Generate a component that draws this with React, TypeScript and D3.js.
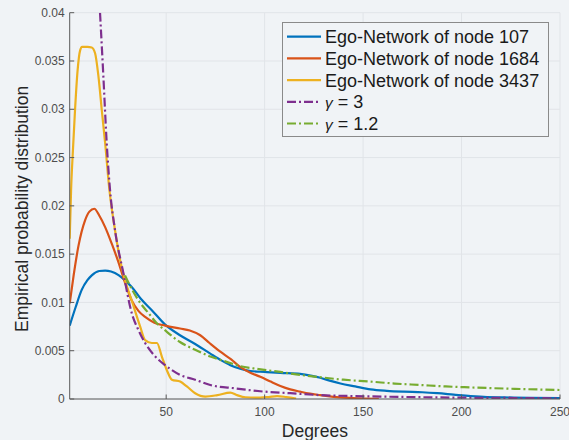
import * as React from "react";
import * as d3 from "d3";

// values: [degree, probability]
const node107: [number, number][] = [
  [1, 0.0076], [4, 0.0095], [7.1, 0.0113], [10, 0.0123], [12.2, 0.0128], [16, 0.01325],
  [19, 0.0133], [22, 0.0132], [26, 0.0128], [30, 0.0121], [32.5, 0.0116], [37, 0.0104],
  [42.7, 0.0092], [49.5, 0.0077], [57, 0.0066], [64.7, 0.0057], [72.4, 0.0047], [78, 0.0040],
  [82.6, 0.0035], [88, 0.0031], [92.8, 0.0029], [100, 0.0028], [108, 0.0027], [118, 0.0026],
  [124, 0.0024], [128.3, 0.0022], [133, 0.0019], [138.5, 0.0016], [146, 0.0013], [153.8, 0.0010],
  [162, 0.00085], [170.7, 0.00076], [180, 0.0007], [187.7, 0.0006], [196, 0.00045], [204.6, 0.0003],
  [213, 0.0002], [221.5, 0.00017], [235, 0.00012], [250, 0.0001],
];

const node1684: [number, number][] = [
  [1, 0.0099], [3, 0.0128], [5.4, 0.0158], [8.8, 0.0185], [11, 0.0194], [13.5, 0.0197],
  [16, 0.019], [19, 0.0178], [22.5, 0.016], [25.7, 0.0142], [29, 0.0121], [32.5, 0.0102],
  [36, 0.0091], [39.3, 0.0085], [44, 0.0079], [49.5, 0.0076], [57, 0.0073], [62, 0.0071],
  [67.3, 0.0066], [72, 0.0058], [77.5, 0.0049], [83, 0.0041], [87.7, 0.0033], [93, 0.0027],
  [97.8, 0.0023], [103, 0.0018], [108, 0.00135], [113, 0.001], [118, 0.00076], [123, 0.00055],
  [128.3, 0.0004], [135, 0.00022], [145, 0.0001], [158, 0.00002],
];

const node3437: [number, number][] = [
  [1, 0.0166], [1.7, 0.0216], [2.7, 0.026], [3.7, 0.0299], [5, 0.034], [6.3, 0.0361],
  [7.3, 0.03646], [10, 0.03646], [12.2, 0.0364], [13.9, 0.0358], [15.6, 0.0334], [17.3, 0.0299],
  [19, 0.0265], [21.2, 0.0216], [24, 0.0175], [26.6, 0.0144], [29.1, 0.0123], [32.5, 0.0102],
  [36.8, 0.0075], [39.3, 0.0061], [42.7, 0.0058], [45.3, 0.0058], [47.8, 0.0044], [50.3, 0.003],
  [52.9, 0.002], [57.1, 0.0018], [60.5, 0.0013], [64.7, 0.0006], [69.9, 0.00025], [76, 0.0004],
  [82.6, 0.00066], [86, 0.0004], [90.2, 0.00018], [97.8, 0.00014], [102, 0.0002], [106.3, 0.0003],
  [111, 0.0002], [116, 0.00005],
];

const gamma3: [number, number][] = [
  [16.4, 0.04], [18.1, 0.0334], [19.8, 0.0265], [21.5, 0.0216], [24, 0.0175], [28.3, 0.013],
  [32.5, 0.0089], [36, 0.0071], [39.3, 0.0058], [44, 0.0045], [49.5, 0.0035], [57, 0.0025],
  [64.7, 0.002], [72.4, 0.00145], [85, 0.0011], [97.8, 0.0008], [113, 0.0006], [128.3, 0.0004],
  [145, 0.0003], [162, 0.00024], [185, 0.00017], [210, 0.00012], [230, 0.0001], [250, 0.00007],
];

const gamma12: [number, number][] = [
  [29.1, 0.0128], [33, 0.0112], [37, 0.0099], [41, 0.0089], [45, 0.0079], [49.5, 0.0071],
  [57, 0.0059], [64.7, 0.0051], [72.4, 0.0044], [80, 0.0039], [87.7, 0.0034], [97, 0.0031],
  [108, 0.0028], [118, 0.0025], [128.3, 0.00225], [140, 0.002], [153.8, 0.0018], [166, 0.0016],
  [179.2, 0.00145], [192, 0.0013], [204.6, 0.0012], [227, 0.00105], [250, 0.00093],
];

const xTicks = [50, 100, 150, 200, 250];
const yTicks = [0, 0.005, 0.01, 0.015, 0.02, 0.025, 0.03, 0.035, 0.04];
const yTickLabels = ["0", "0.005", "0.01", "0.015", "0.02", "0.025", "0.03", "0.035", "0.04"];

const series = [
  { name: "Ego-Network of node 107", data: node107, color: "#0072BD", dash: "", greek: "" },
  { name: "Ego-Network of node 1684", data: node1684, color: "#D95319", dash: "", greek: "" },
  { name: "Ego-Network of node 3437", data: node3437, color: "#EDB120", dash: "", greek: "" },
  { name: " = 3", data: gamma3, color: "#7E2F8E", dash: "9,3,2,3", greek: "γ" },
  { name: " = 1.2", data: gamma12, color: "#77AC30", dash: "9,3,2,3", greek: "γ" },
];

const W = 569;
const H = 440;
const left = 69.7;
const right = 560;
const top = 12.7;
const bottom = 399;
const font = "'Liberation Sans', Arial, sans-serif";

export default function App() {
  const x = d3.scaleLinear().domain([1, 250]).range([left, right]);
  const y = d3.scaleLinear().domain([0, 0.04]).range([bottom, top]);
  const line = d3
    .line<[number, number]>()
    .x((d) => x(d[0]))
    .y((d) => y(d[1]))
    .curve(d3.curveMonotoneX);

  return (
    <svg
      width={W}
      height={H}
      style={{ position: "absolute", left: 0, top: 0, background: "#f0f3f6" }}
      fontFamily={font}
    >
      <defs>
        <clipPath id="plot">
          <rect x={left} y={top} width={right - left} height={bottom - top} />
        </clipPath>
      </defs>

      {/* grid */}
      <g stroke="#e1e4e8" strokeWidth={1}>
        {xTicks.map((t) => (
          <line key={"gx" + t} x1={x(t)} x2={x(t)} y1={top} y2={bottom} />
        ))}
        {yTicks.map((t) => (
          <line key={"gy" + t} x1={left} x2={right} y1={y(t)} y2={y(t)} />
        ))}
      </g>

      {/* curves */}
      <g clipPath="url(#plot)" fill="none">
        {series.map((s) => (
          <path
            key={s.color}
            d={line(s.data) || ""}
            stroke={s.color}
            strokeWidth={2.2}
            strokeDasharray={s.dash || undefined}
          />
        ))}
      </g>

      {/* axes */}
      <g stroke="#5a5a5a" strokeWidth={1}>
        <line x1={left} x2={left} y1={top} y2={bottom} />
        <line x1={left} x2={right} y1={bottom} y2={bottom} />
        {yTicks.map((t) => (
          <line key={"ty" + t} x1={left} x2={left + 4.5} y1={y(t)} y2={y(t)} />
        ))}
        {xTicks.map((t) => (
          <line key={"tx" + t} x1={x(t)} x2={x(t)} y1={bottom} y2={bottom - 4.5} />
        ))}
      </g>
      <g fontSize={12} fill="#4d4d4d">
        {yTicks.map((t, i) => (
          <text key={"ly" + t} x={left - 5} y={y(t)} dy="0.35em" textAnchor="end">
            {yTickLabels[i]}
          </text>
        ))}
        {xTicks.map((t) => (
          <text key={"lx" + t} x={x(t)} y={bottom + 17} textAnchor="middle">
            {t}
          </text>
        ))}
      </g>
      <text x={(left + right) / 2} y={437} textAnchor="middle" fontSize={17.5} fill="#262626">
        Degrees
      </text>
      <text
        transform={`translate(28, ${(top + bottom) / 2 + 3}) rotate(-90)`}
        textAnchor="middle"
        fontSize={17.5}
        fill="#262626"
      >
        Empirical probability distribution
      </text>

      {/* legend */}
      <rect x={282.5} y={22.5} width={266} height={114} fill="#f0f3f6" stroke="#8a8a8a" strokeWidth={1} />
      {series.map((s, i) => {
        const ry = 36.7 + i * 21.7;
        return (
          <g key={"lg" + s.color}>
            <line
              x1={287}
              x2={321}
              y1={ry}
              y2={ry}
              stroke={s.color}
              strokeWidth={2.2}
              strokeDasharray={s.dash || undefined}
            />
            <text x={325} y={ry} dy="0.36em" fontSize={18} fill="#1a1a1a">
              {s.greek ? (
                <tspan fontStyle="italic" fontSize={15.5}>
                  {s.greek}
                </tspan>
              ) : null}
              {s.name}
            </text>
          </g>
        );
      })}
    </svg>
  );
}
